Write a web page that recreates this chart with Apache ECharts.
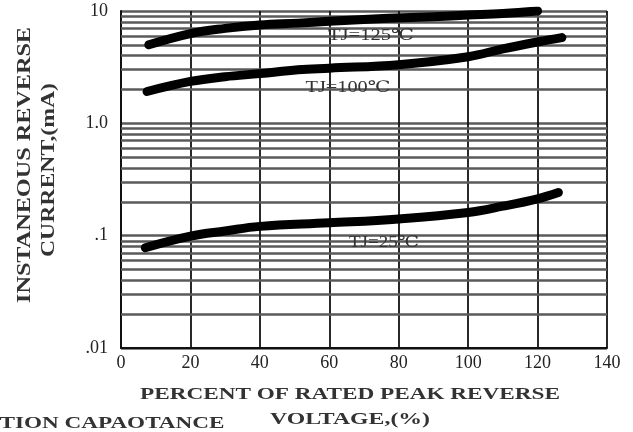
<!DOCTYPE html>
<html><head><meta charset="utf-8">
<script src="https://cdn.jsdelivr.net/npm/echarts@6/dist/echarts.min.js"></script>
<style>html,body{margin:0;padding:0;background:#fff}#c{width:633px;height:432px}</style>
</head><body><div id="c"></div>
<script>
const xTicks = [0, 20, 40, 60, 80, 100, 120, 140];
const yTickLabels = {"10": "10", "1": "1.0", "0.1": ".1", "0.01": ".01"};
const tj125 = [[8, 5.0], [20, 6.3], [30, 7.0], [40, 7.5], [51, 7.8], [60, 8.1], [77, 8.6], [90, 8.9], [100, 9.2], [110, 9.5], [120, 10.0]];
const tj100 = [[7.5, 1.92], [20, 2.36], [30, 2.6], [40, 2.77], [51, 3.0], [60, 3.1], [80, 3.33], [100, 3.92], [110, 4.6], [120, 5.3], [127, 5.8]];
const tj25 = [[7, 0.078], [20, 0.099], [30, 0.11], [40, 0.121], [60, 0.13], [80, 0.141], [100, 0.161], [110, 0.183], [120, 0.213], [126, 0.242]];
const minorLines = [0.02,0.03,0.04,0.05,0.06,0.07,0.08,0.09,0.2,0.3,0.4,0.5,0.6,0.7,0.8,0.9,2,3,4,5,6,7,8,9];
const seriesNames = ["TJ=125\u2103", "TJ=100\u2103", "TJ=25\u2103"];
const xTitle1 = "PERCENT OF RATED PEAK REVERSE";
const xTitle2 = "VOLTAGE,(%)";
const yTitle1 = "INSTANEOUS REVERSE";
const yTitle2 = "CURRENT,(mA)";
const cutText = "TION CAPAOTANCE";

const serif = "'Liberation Serif','DejaVu Serif',serif";
const ctx = document.createElement('canvas').getContext('2d');
function sx(text, font, target) { ctx.font = font; return target / ctx.measureText(text).width; }
const titleFont = 'bold 16px ' + serif;
const yFont = 'bold 18px ' + serif;
const tjFont = '16px ' + serif;

function txt(text, font, x, y, w, rot) {
  return {type: 'text', x, y, rotation: rot || 0, scaleX: sx(text, font, w), z: 10,
    style: {text, font, fill: '#333', align: 'center', verticalAlign: 'middle'}};
}

const chart = echarts.init(document.getElementById('c'));
function curve(name, data) {
  return {name, type: 'line', data, smooth: 0.4, symbol: 'none', z: 5,
    lineStyle: {color: '#000', width: 9, cap: 'round', join: 'round'}};
}
chart.setOption({
  animation: false,
  backgroundColor: '#fff',
  grid: {left: 121, right: 26, top: 11, bottom: 84},
  xAxis: {type: 'value', min: 0, max: 140, interval: 20,
    axisLine: {lineStyle: {color: '#111', width: 2}},
    axisTick: {show: false},
    axisLabel: {fontFamily: serif, fontSize: 18, color: '#222', margin: 6,
      formatter: v => xTicks.includes(v) ? String(v) : ''},
    splitLine: {lineStyle: {color: '#111', width: 1.8}}},
  yAxis: {type: 'log', logBase: 10, min: 0.01, max: 10,
    axisLine: {show: true, lineStyle: {color: '#111', width: 2}},
    axisTick: {show: false},
    axisLabel: {fontFamily: serif, fontSize: 18, color: '#222', margin: 13,
      formatter: v => v >= 5 ? yTickLabels["10"] : v >= 0.5 ? yTickLabels["1"] : v >= 0.05 ? yTickLabels["0.1"] : yTickLabels["0.01"]},
    splitLine: {lineStyle: {color: '#5a5a5a', width: 2.5}}},
  series: [
    {type: 'line', data: [], symbol: 'none', z: 2,
      markLine: {silent: true, symbol: 'none', label: {show: false},
        lineStyle: {color: '#5a5a5a', width: 2.5, type: 'solid'},
        data: minorLines.map(v => ({yAxis: v}))}},
    curve(seriesNames[0], tj125),
    curve(seriesNames[1], tj100),
    curve(seriesNames[2], tj25)
  ],
  graphic: [
    txt(seriesNames[0], tjFont, 371, 36, 86),
    txt(seriesNames[1], tjFont, 348, 88, 85),
    txt(seriesNames[2], tjFont, 384, 243, 70),
    txt(xTitle1, titleFont, 350, 395, 420),
    txt(xTitle2, titleFont, 350, 420, 160),
    txt(cutText, titleFont, 112, 424, 225),
    txt(yTitle1, yFont, 25, 165, 276, Math.PI / 2),
    txt(yTitle2, yFont, 49, 170, 174, Math.PI / 2)
  ]
});
</script></body></html>
